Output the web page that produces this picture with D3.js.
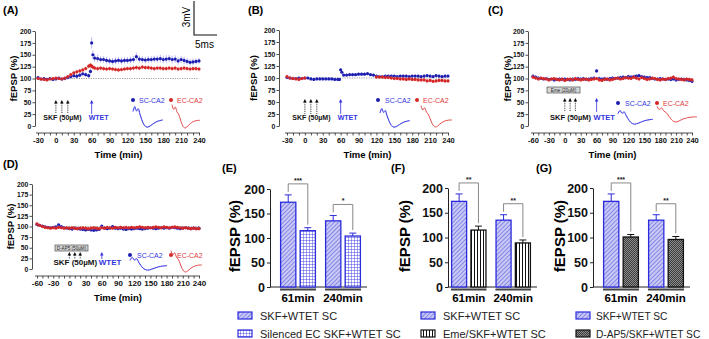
<!DOCTYPE html>
<html>
<head>
<meta charset="utf-8">
<script src="https://cdn.jsdelivr.net/npm/d3@7"></script>
<style>
  body { margin: 0; background: #fff; }
  svg text { font-family: Arial, "Liberation Sans", sans-serif; }
</style>
</head>
<body>
<svg id="fig" width="709" height="339"></svg>
<script>
// ---- time course data (min, % of baseline) ----
const timesA = [-30,-25,-20,-15,-10,-5,0,5,10,15,20,25,30,35,40,45,50,55,58,60,62,65,70,75,80,85,90,95,100,105,110,115,120,125,130,135,140,145,150,155,160,165,170,175,180,185,190,195,200,205,210,215,220,225,230,235,240];
const scA = [102,99,100,98,100,98,99,101,99,100,102,104,106,105,107,110,108,106,115,175,150,143,142,140,140,138,137,136,137,138,137,138,138,139,140,146,141,140,139,140,140,141,141,142,140,141,142,140,141,137,140,138,136,134,135,136,137];
const scAsem = [3,3,3,3,3,3,3,3,3,4,4,4,4,5,5,5,5,5,6,12,9,8,8,7,7,7,7,7,7,7,7,7,7,7,7,8,7,7,7,7,7,7,7,8,8,8,8,8,8,8,8,8,7,7,7,6,6];
const ecA = [100,99,98,97,99,100,101,100,99,101,104,108,112,114,116,118,121,126,128,126,124,122,121,122,121,120,121,120,119,118,119,120,121,121,122,123,122,124,123,123,122,121,122,122,121,121,122,121,122,120,121,122,121,120,121,121,120];
const ecAsem = [3,3,3,3,3,3,3,3,3,3,4,4,4,4,4,5,5,5,5,5,5,5,5,5,5,5,5,5,5,5,5,5,5,5,5,5,5,5,5,5,5,5,5,5,5,5,5,5,5,5,5,5,5,5,5,5,5];

const timesBsc = timesA;
const scB = [101,100,99,99,100,99,100,100,98,97,98,98,98,98,98,98,97,97,97,117,112,106,106,107,107,107,108,108,108,109,107,106,104,103,103,104,104,104,104,103,104,104,104,103,104,104,104,103,104,105,104,103,105,104,103,104,104];
const timesBec = [-30,-25,-20,-15,-10,-5,0,120,125,130,135,140,145,150,155,160,165,170,175,180,185,190,195,200,205,210,215,220,225,230,235,240];
const ecB = [103,100,99,98,97,99,100,102,102,102,101,101,100,99,99,98,98,97,98,97,97,96,96,96,94,95,93,94,95,95,94,94];
const semB = [3, 4]; // SC, EC

const times60 = [-60,-55,-50,-45,-40,-35,-30,-25,-20,-15,-10,-5,0,5,10,15,20,25,30,35,40,45,50,55,60,65,70,75,80,85,90,95,100,105,110,115,120,125,130,135,140,145,150,155,160,165,170,175,180,185,190,195,200,205,210,215,220,225,230,235,240];
const scC = [105,103,101,100,99,100,98,99,97,98,99,98,99,98,97,99,98,100,99,100,98,99,100,101,116,100,99,100,98,100,101,100,101,102,103,102,104,103,104,105,106,104,103,102,102,100,99,99,100,99,98,99,98,99,97,98,99,98,97,96,94];
const ecC = [103,101,99,101,100,99,97,99,100,98,97,99,96,98,99,97,100,98,97,98,99,97,98,99,100,97,96,98,99,97,98,100,101,99,100,102,101,100,103,101,99,102,100,98,99,101,100,98,97,99,98,100,101,103,100,99,98,97,99,98,97];
const semC = [4, 4];

const scD = [105,103,101,99,98,97,98,99,104,100,97,96,95,94,96,95,94,93,92,93,92,91,92,93,101,96,95,96,100,96,95,96,94,93,95,94,95,96,95,94,95,96,97,96,95,96,97,96,97,96,98,97,96,95,96,97,96,95,96,95,96];
const ecD = [106,103,100,98,97,96,97,96,98,97,96,97,96,97,96,95,96,97,96,95,96,97,96,95,97,96,98,97,96,98,97,98,97,98,97,98,97,98,99,98,97,98,97,98,99,98,97,99,98,97,98,99,98,97,96,97,96,95,96,95,95];
const semD = [3, 4];

const yTicksTime = [0,25,50,75,100,125,150,175,200];
const xTicks30 = [-30,0,30,60,90,120,150,180,210,240];
const xTicks60 = [-60,-30,0,30,60,90,120,150,180,210,240];
const skfTimes = [0, 10, 20];
const wtetTime = 60;

// representative fEPSP traces (normalised amplitude)
const scTrace = [0.5,0.95,0.55,0.75,0.2,-0.3,-0.7,-0.92,-1.0,-0.96,-0.86,-0.74,-0.62,-0.52,-0.45,-0.4,-0.36,-0.34];
const scTrace2 = [0.45,0.85,0.5,0.6,0.1,-0.35,-0.75,-0.98,-1.05,-1.0,-0.9,-0.78,-0.65,-0.55,-0.46,-0.4,-0.35,-0.32];
const ecTrace = [0.95,0.55,0.75,0.35,0.15,-0.25,-0.65,-0.92,-1.0,-0.92,-0.78,-0.64,-0.54,-0.46,-0.41,-0.38,-0.36,-0.37];

// ---- bar data ----
const barGroups = ["61min", "240min"];
const skfWtet = [173, 135], skfWtetSem = [15, 11];
const silencedEC = [115, 104], silencedECSem = [6, 6];
const emeSkf = [115, 89], emeSkfSem = [8, 6];
const dap5Skf = [101, 96], dap5SkfSem = [5, 6];
const sigE = ["***", "*"], sigF = ["**", "**"], sigG = ["***", "**"];
const barTicks = [0, 50, 100, 150, 200];

const BLUE = "#1d1db0", BLUE_ERR = "#9a9aec", RED = "#d42626", RED_ERR = "#f2a0a0";
const LBLUE = "#3434e0", LRED = "#e23a3a", BAR_BLUE = "#2b2bdc";

const svg = d3.select("#fig");
const defs = svg.append("defs");

// patterns
const pDiag = defs.append("pattern").attr("id", "diag").attr("patternUnits", "userSpaceOnUse")
  .attr("width", 3).attr("height", 3).attr("patternTransform", "rotate(45)");
pDiag.append("rect").attr("width", 3).attr("height", 3).attr("fill", "#c9c9f5");
pDiag.append("line").attr("x1", 0).attr("y1", 0).attr("x2", 0).attr("y2", 3).attr("stroke", "#5858e0").attr("stroke-width", 1.2);

const pGrid = defs.append("pattern").attr("id", "grid").attr("patternUnits", "userSpaceOnUse")
  .attr("width", 3).attr("height", 3);
pGrid.append("rect").attr("width", 3).attr("height", 3).attr("fill", "#fff");
pGrid.append("path").attr("d", "M0,0V3M0,0H3").attr("stroke", "#3a3ae0").attr("stroke-width", 0.9);

const pV = defs.append("pattern").attr("id", "vlines").attr("patternUnits", "userSpaceOnUse")
  .attr("width", 3).attr("height", 3);
pV.append("rect").attr("width", 3).attr("height", 3).attr("fill", "#fff");
pV.append("line").attr("x1", 0.5).attr("y1", 0).attr("x2", 0.5).attr("y2", 3).attr("stroke", "#111").attr("stroke-width", 1);

const pChk = defs.append("pattern").attr("id", "check").attr("patternUnits", "userSpaceOnUse")
  .attr("width", 2).attr("height", 2);
pChk.append("rect").attr("width", 2).attr("height", 2).attr("fill", "#3c3c3c");
pChk.append("rect").attr("width", 1).attr("height", 1).attr("fill", "#8c8c8c");
pChk.append("rect").attr("x", 1).attr("y", 1).attr("width", 1).attr("height", 1).attr("fill", "#8c8c8c");

function label(txt, x, y) {
  svg.append("text").attr("x", x).attr("y", y).attr("font-size", 11).attr("font-weight", "bold").text(txt);
}

function upArrow(g, x, yTop, yBot, color, dashed) {
  g.append("line").attr("x1", x).attr("x2", x).attr("y1", yTop + 3).attr("y2", yBot)
    .attr("stroke", color).attr("stroke-width", 0.8).attr("stroke-dasharray", dashed ? "1.2,1" : null);
  g.append("path").attr("d", `M${x - 1.8},${yTop + 3.5}L${x},${yTop}L${x + 1.8},${yTop + 3.5}Z`).attr("fill", color);
}

function trace(g, vals, x0, x1, yTop, yBot, color, dash, op) {
  const tx = d3.scaleLinear().domain([0, vals.length - 1]).range([x0, x1]);
  const ty = d3.scaleLinear().domain([-1, 1]).range([yBot, yTop]);
  g.append("path").datum(vals)
    .attr("d", d3.line().x((d, i) => tx(i)).y(d => ty(d)).curve(d3.curveCatmullRom))
    .attr("fill", "none").attr("stroke", color).attr("stroke-width", dash ? 0.8 : 1)
    .attr("stroke-dasharray", dash ? "1.5,0.8" : null).attr("opacity", op || 1);
}

function timePanel(p) {
  const x = d3.scaleLinear().domain(p.xDomain).range(p.xRange);
  const y = d3.scaleLinear().domain([0, 200]).range([p.y0, p.y200]);
  const g = svg.append("g");

  // y axis
  const ya = g.append("g").attr("transform", `translate(${p.yAxisX},0)`)
    .call(d3.axisLeft(y).tickValues(yTicksTime).tickSize(2.5).tickSizeOuter(0).tickPadding(1.2));
  ya.selectAll("text").attr("font-size", 6.8).attr("font-weight", "bold").attr("fill", "#111");
  ya.selectAll("line,path").attr("stroke", "#222").attr("stroke-width", 0.8);

  // x axis: minor every 10 min, labels every 30
  const minor = d3.range(p.xDomain[0], p.xDomain[1] + 1, 10);
  const xa = g.append("g").attr("transform", `translate(0,${p.xAxisY})`)
    .call(d3.axisBottom(x).tickValues(minor).tickSize(2.5).tickSizeOuter(0).tickPadding(2)
      .tickFormat(d => p.xTicks.includes(d) ? d : ""));
  xa.selectAll("text").attr("font-size", p.tickFont).attr("font-weight", "bold").attr("fill", "#111");
  xa.selectAll("line,path").attr("stroke", "#222").attr("stroke-width", 0.8);
  xa.select(".domain").attr("d", `M${p.xRange[0] - 2},0H${p.xRange[1] + 1}`);

  g.append("text").attr("x", (p.xRange[0] + p.xRange[1]) / 2).attr("y", p.xAxisY + 25)
    .attr("text-anchor", "middle").attr("font-size", 9.5).attr("font-weight", "bold").text("Time (min)");
  g.append("text").attr("transform", `translate(${p.yLabelX},${(p.y0 + p.y200) / 2}) rotate(-90)`)
    .attr("text-anchor", "middle").attr("font-size", 9.5).attr("font-weight", "bold").text("fEPSP (%)");

  // baseline 100 %
  g.append("line").attr("x1", x(p.xDomain[0])).attr("x2", x(240)).attr("y1", y(100)).attr("y2", y(100))
    .attr("stroke", "#888").attr("stroke-width", 0.8).attr("stroke-dasharray", "1.2,1.2");

  // series: blue first, red on top
  p.series.forEach(s => {
    const sg = g.append("g");
    sg.selectAll("line").data(s.v).join("line")
      .attr("x1", (d, i) => x(s.t[i])).attr("x2", (d, i) => x(s.t[i]))
      .attr("y1", (d, i) => y(d - (Array.isArray(s.e) ? s.e[i] : s.e)))
      .attr("y2", (d, i) => y(d + (Array.isArray(s.e) ? s.e[i] : s.e)))
      .attr("stroke", s.errColor).attr("stroke-width", 0.7);
    sg.selectAll("circle").data(s.v).join("circle")
      .attr("cx", (d, i) => x(s.t[i])).attr("cy", d => y(d)).attr("r", 1.6).attr("fill", s.color);
  });

  // inset annotations
  const a = p.inset;
  skfTimes.forEach(t => upArrow(g, x(t), a.arrowTop, a.arrowBot, "#111", true));
  upArrow(g, x(wtetTime), a.arrowTop, a.arrowBot, LBLUE, false);
  g.append("text").attr("x", x(10) + 0.5).attr("y", a.textY).attr("text-anchor", "middle")
    .attr("font-size", a.font).attr("font-weight", "bold").attr("fill", "#111").text("SKF (50µM)");
  g.append("text").attr("x", x(wtetTime) - 3).attr("y", a.textY)
    .attr("font-size", a.font).attr("font-weight", "bold").attr("fill", LBLUE).text("WTET");
  if (a.box) {
    g.append("rect").attr("x", a.box[0]).attr("y", a.box[2]).attr("width", a.box[1] - a.box[0])
      .attr("height", a.box[3] - a.box[2]).attr("fill", "#d8d8d8").attr("stroke", "#333").attr("stroke-width", 0.6);
    g.append("text").attr("x", (a.box[0] + a.box[1]) / 2).attr("y", a.box[3] - 1.3).attr("text-anchor", "middle")
      .attr("font-size", 4.6).attr("fill", "#222").text(a.boxText);
  }
  // legend
  g.append("circle").attr("cx", a.leg[0]).attr("cy", a.legY).attr("r", 2).attr("fill", BLUE);
  g.append("text").attr("x", a.leg[1]).attr("y", a.legY + 2.5).attr("font-size", 7).attr("fill", LBLUE).text("SC-CA2");
  g.append("circle").attr("cx", a.leg[2]).attr("cy", a.legY).attr("r", 2).attr("fill", RED);
  g.append("text").attr("x", a.leg[3]).attr("y", a.legY + 2.5).attr("font-size", 7).attr("fill", LRED).text("EC-CA2");
  // traces
  trace(g, scTrace2, a.blueBox[0], a.blueBox[1], a.blueBox[2], a.blueBox[3], "#8080ee", true);
  trace(g, scTrace, a.blueBox[0], a.blueBox[1], a.blueBox[2], a.blueBox[3], "#3d3de6", false);
  trace(g, ecTrace, a.redBox[0], a.redBox[1], a.redBox[2], a.redBox[3], "#e24a4a", false);
}

// (A)
label("(A)", 3, 14);
timePanel({
  xDomain: [-30, 240], xRange: [38, 199], y0: 126, y200: 31, yAxisX: 35, xAxisY: 133,
  xTicks: xTicks30, tickFont: 7.5, yLabelX: 17,
  series: [
    { t: timesA, v: scA, e: scAsem, color: BLUE, errColor: BLUE_ERR },
    { t: timesA, v: ecA, e: ecAsem, color: RED, errColor: RED_ERR }
  ],
  inset: { arrowTop: 100, arrowBot: 114, textY: 120, font: 7,
    leg: [133, 139, 171, 177], legY: 100,
    blueBox: [133, 163, 106, 127], redBox: [172, 200, 104, 128] }
});
// scale bar
svg.append("path").attr("d", "M194,1V35H217").attr("fill", "none").attr("stroke", "#111").attr("stroke-width", 1.1);
svg.append("text").attr("transform", "translate(190,17) rotate(-90)").attr("text-anchor", "middle")
  .attr("font-size", 10).text("3mV");
svg.append("text").attr("x", 195).attr("y", 48).attr("font-size", 10).text("5ms");

// (B)
label("(B)", 248, 14);
timePanel({
  xDomain: [-30, 240], xRange: [287, 448], y0: 126, y200: 30, yAxisX: 279, xAxisY: 133,
  xTicks: xTicks30, tickFont: 7.5, yLabelX: 257,
  series: [
    { t: timesBsc, v: scB, e: semB[0], color: BLUE, errColor: BLUE_ERR },
    { t: timesBec, v: ecB, e: semB[1], color: RED, errColor: RED_ERR }
  ],
  inset: { arrowTop: 99, arrowBot: 114, textY: 120, font: 7,
    leg: [378, 385, 417, 423], legY: 100,
    blueBox: [380, 410, 108, 127], redBox: [421, 452, 105, 127] }
});

// (C)
label("(C)", 488, 14);
timePanel({
  xDomain: [-60, 240], xRange: [533, 692], y0: 126, y200: 31, yAxisX: 528, xAxisY: 133,
  xTicks: xTicks60, tickFont: 7.5, yLabelX: 511,
  series: [
    { t: times60, v: scC, e: semC[0], color: BLUE, errColor: BLUE_ERR },
    { t: times60, v: ecC, e: semC[1], color: RED, errColor: RED_ERR }
  ],
  inset: { arrowTop: 98, arrowBot: 112, textY: 120, font: 7.5,
    leg: [618, 625, 657, 663], legY: 103,
    blueBox: [618, 653, 110, 124], redBox: [657, 697, 106, 122],
    box: [547, 580, 87, 93], boxText: "Eme (20µM)" }
});

// (D)
label("(D)", 3, 168);
timePanel({
  xDomain: [-60, 240], xRange: [37, 199], y0: 269, y200: 184, yAxisX: 32, xAxisY: 276,
  xTicks: xTicks60, tickFont: 8, yLabelX: 14,
  series: [
    { t: times60, v: scD, e: semD[0], color: BLUE, errColor: BLUE_ERR },
    { t: times60, v: ecD, e: semD[1], color: RED, errColor: RED_ERR }
  ],
  inset: { arrowTop: 252, arrowBot: 259, textY: 265, font: 8,
    leg: [130, 137, 171, 177], legY: 255,
    blueBox: [130, 167, 257, 270], redBox: [171, 202, 250, 272],
    box: [55, 88, 245, 251], boxText: "D-AP5 (50µM)" }
});

// ---- bar panels ----
function barPanel(p) {
  const y = d3.scaleLinear().domain([0, 200]).range([287, p.y200]);
  const x0 = d3.scaleBand().domain(barGroups).range(p.groupRange).paddingInner(0.2).paddingOuter(0);
  const x1 = d3.scaleBand().domain([0, 1]).range([0, x0.bandwidth()]).paddingInner(0.16);
  const g = svg.append("g");

  const ya = g.append("g").attr("transform", `translate(${p.axisX},0)`)
    .call(d3.axisLeft(y).tickValues(barTicks).tickSize(3).tickSizeOuter(0).tickPadding(2));
  ya.selectAll("text").attr("font-size", 12.5).attr("font-weight", "bold").attr("fill", "#111");
  ya.selectAll("line,path").attr("stroke", "#222").attr("stroke-width", 1);
  g.append("line").attr("x1", p.axisX).attr("x2", p.groupRange[1] + 6).attr("y1", y(0)).attr("y2", y(0))
    .attr("stroke", "#222").attr("stroke-width", 1);

  g.append("text").attr("transform", `translate(${p.yLabelX},236) rotate(-90)`).attr("text-anchor", "middle")
    .attr("font-size", 15).attr("font-weight", "bold").text("fEPSP (%)");

  const series = [
    { v: skfWtet, e: skfWtetSem, fill: "url(#diag)", stroke: BAR_BLUE, name: "SKF+WTET SC" },
    { v: p.v2, e: p.e2, fill: p.fill2, stroke: p.stroke2, name: p.name2 }
  ];
  series.forEach((s, si) => {
    barGroups.forEach((grp, gi) => {
      const bx = x0(grp) + x1(si), bw = x1.bandwidth();
      g.append("line").attr("x1", bx + bw / 2).attr("x2", bx + bw / 2).attr("y1", y(s.v[gi]))
        .attr("y2", y(s.v[gi] + s.e[gi])).attr("stroke", s.stroke).attr("stroke-width", 1);
      g.append("line").attr("x1", bx + bw / 2 - 3.5).attr("x2", bx + bw / 2 + 3.5)
        .attr("y1", y(s.v[gi] + s.e[gi])).attr("y2", y(s.v[gi] + s.e[gi]))
        .attr("stroke", s.stroke).attr("stroke-width", 1);
      g.append("rect").attr("x", bx + 0.6).attr("y", y(s.v[gi])).attr("width", bw - 1.2)
        .attr("height", y(0) - y(s.v[gi])).attr("fill", s.fill).attr("stroke", s.stroke).attr("stroke-width", 1.3);
    });
  });

  barGroups.forEach((grp, gi) => {
    // group underline + label
    g.append("line").attr("x1", x0(grp)).attr("x2", x0(grp) + x0.bandwidth()).attr("y1", y(0) + 2.5).attr("y2", y(0) + 2.5)
      .attr("stroke", "#444").attr("stroke-width", 1.8);
    g.append("text").attr("x", x0(grp) + x0.bandwidth() / 2).attr("y", 302).attr("text-anchor", "middle")
      .attr("font-size", 11.5).attr("font-weight", "bold").text(grp);
    // significance bracket
    const c1 = x0(grp) + x1(0) + x1.bandwidth() / 2, c2 = x0(grp) + x1(1) + x1.bandwidth() / 2;
    const t1 = y(skfWtet[gi] + skfWtetSem[gi]), t2 = y(p.v2[gi] + p.e2[gi]);
    const top = Math.min(t1, t2) - 11;
    g.append("path").attr("d", `M${c1},${t1 - 3}V${top}H${c2}V${t2 - 3}`).attr("fill", "none")
      .attr("stroke", "#888").attr("stroke-width", 1);
    g.append("text").attr("x", (c1 + c2) / 2).attr("y", top - 1).attr("text-anchor", "middle")
      .attr("font-size", 7).attr("font-weight", "bold").attr("fill", "#222").text(p.sig[gi]);
  });

  // legend
  series.forEach((s, si) => {
    const ly = 312 + si * 18;
    g.append("rect").attr("x", p.legX).attr("y", ly).attr("width", 14).attr("height", 7)
      .attr("fill", s.fill).attr("stroke", s.stroke).attr("stroke-width", 1.2);
    g.append("text").attr("x", p.legX + p.legGap).attr("y", ly + 7.5).attr("font-size", p.legFont)
      .attr("fill", "#222").text(s.name);
  });
}

label("(E)", 222, 172);
barPanel({ axisX: 270, y200: 189, groupRange: [280, 361], yLabelX: 240, legX: 238, legGap: 22, legFont: 11,
  v2: silencedEC, e2: silencedECSem, fill2: "url(#grid)", stroke2: BAR_BLUE, name2: "Silenced EC SKF+WTET SC", sig: sigE });

label("(F)", 391, 172);
barPanel({ axisX: 448, y200: 188, groupRange: [451, 531], yLabelX: 410, legX: 421, legGap: 22, legFont: 11,
  v2: emeSkf, e2: emeSkfSem, fill2: "url(#vlines)", stroke2: "#111", name2: "Eme/SKF+WTET SC", sig: sigF });

label("(G)", 536, 172);
barPanel({ axisX: 593, y200: 188, groupRange: [603, 684], yLabelX: 565, legX: 576, legGap: 20, legFont: 10.2,
  v2: dap5Skf, e2: dap5SkfSem, fill2: "url(#check)", stroke2: "#111", name2: "D-AP5/SKF+WTET SC", sig: sigG });
</script>
</body>
</html>
